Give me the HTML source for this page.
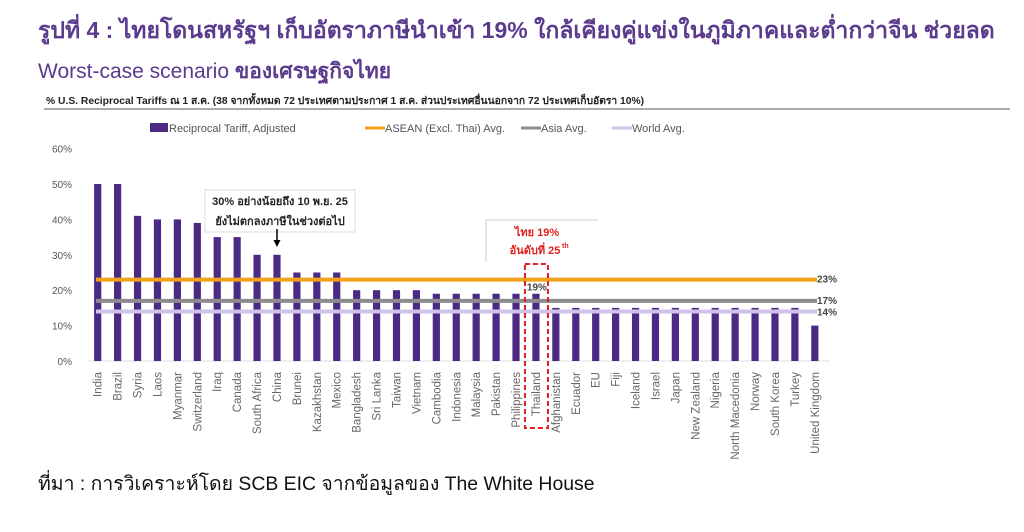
<!DOCTYPE html>
<html><head><meta charset="utf-8">
<style>
body{margin:0;background:#fff;width:1024px;height:532px;overflow:hidden;font-family:"Liberation Sans","Noto Sans CJK SC",sans-serif;}
.t{position:absolute;color:#5a3b8e;white-space:nowrap;}
</style></head><body>
<div class="t" style="left:38px;top:13px;font-size:23px;font-weight:bold;">รูปที่ 4 : ไทยโดนสหรัฐฯ เก็บอัตราภาษีนำเข้า 19% ใกล้เคียงคู่แข่งในภูมิภาคและต่ำกว่าจีน ช่วยลด</div>
<div class="t" style="left:38px;top:55px;font-size:21px;">Worst-case scenario <b>ของเศรษฐกิจไทย</b></div>
<div style="position:absolute;left:38px;top:468px;font-size:19.4px;color:#111;">ที่มา : การวิเคราะห์โดย SCB EIC จากข้อมูลของ The White House</div>
<svg id="c" width="1024" height="532" style="position:absolute;left:0;top:0"></svg>
<script>
const countries=["India","Brazil","Syria","Laos","Myanmar","Switzerland","Iraq","Canada","South Africa","China","Brunei","Kazakhstan","Mexico","Bangladesh","Sri Lanka","Taiwan","Vietnam","Cambodia","Indonesia","Malaysia","Pakistan","Philippines","Thailand","Afghanistan","Ecuador","EU","Fiji","Iceland","Israel","Japan","New Zealand","Nigeria","North Macedonia","Norway","South Korea","Turkey","United Kingdom"];
const tariffs=[50,50,41,40,40,39,35,35,30,30,25,25,25,20,20,20,20,19,19,19,19,19,19,15,15,15,15,15,15,15,15,15,15,15,15,15,10];
const avgNames=["ASEAN (Excl. Thai) Avg.","Asia Avg.","World Avg."];
const avgValues=[23,17,14];
const avgColors=["#f0a21b","#8c8c8c","#cfc3ea"];
const yTicks=[0,10,20,30,40,50,60];
const NS="http://www.w3.org/2000/svg";
const svg=document.getElementById('c');
function el(t,a,txt){const e=document.createElementNS(NS,t);for(const k in a)e.setAttribute(k,a[k]);if(txt!==undefined)e.textContent=txt;svg.appendChild(e);return e;}
const y=v=>361-v*3.54;
const x=i=>97.7+i*19.92;
let e=el('text',{x:46,y:104,'font-size':10.3,'font-weight':'bold',fill:'#222'},'% U.S. Reciprocal Tariffs ณ 1 ส.ค. (38 จากทั้งหมด 72 ประเทศตามประกาศ 1 ส.ค. ส่วนประเทศอื่นนอกจาก 72 ประเทศเก็บอัตรา 10%)');

e=el('line',{x1:44,y1:109,x2:1010,y2:109,stroke:'#555','stroke-width':1});

const lg=[["rect","#4b2a85","Reciprocal Tariff, Adjusted",150],["line",avgColors[0],avgNames[0],365],["line",avgColors[1],avgNames[1],521],["line",avgColors[2],avgNames[2],612]];
lg.forEach(l=>{
 if(l[0]=="rect"){e=el('rect',{x:l[3],y:123,width:18,height:9,fill:l[1]});}
 else{e=el('line',{x1:l[3],y1:128,x2:l[3]+20,y2:128,stroke:l[1],'stroke-width':3});}
 
 e=el('text',{x:l[3]+(l[0]=="rect"?19:20),y:132,'font-size':11,fill:'#555'},l[2]);
 
});
yTicks.forEach(v=>{e=el('text',{x:72,y:y(v)+4,'font-size':10,fill:'#555','text-anchor':'end'},v+'%');
 });
e=el('line',{x1:88,y1:361,x2:830,y2:361,stroke:'#ddd','stroke-width':1});

tariffs.forEach((v,i)=>{
 e=el('rect',{x:x(i)-3.6,y:y(v),width:7.2,height:361-y(v),fill:'#4b2a85'});
 
 e=el('text',{transform:`translate(${x(i)+4},372) rotate(-90)`,'font-size':11.5,fill:'#666','text-anchor':'end'},countries[i]);
 
});
avgValues.forEach((v,k)=>{
 e=el('line',{x1:96,y1:y(v),x2:817,y2:y(v),stroke:avgColors[k],'stroke-width':4});
 
 e=el('text',{x:817,y:y(v)+(k==2?4:3),'font-size':10,'font-weight':'bold',fill:'#444'},v+'%');
 
});
const ti=countries.indexOf("Thailand");
e=el('text',{x:x(ti)+1,y:y(tariffs[ti])-3,'font-size':10,'font-weight':'bold',fill:'#444','text-anchor':'middle'},tariffs[ti]+'%');

e=el('rect',{x:x(ti)-11,y:264,width:23,height:164,fill:'none',stroke:'#e02020','stroke-width':2,'stroke-dasharray':'5,3'});

e=el('polyline',{points:'486,262 486,220 598,220',fill:'none',stroke:'#ccc','stroke-width':1});

e=el('text',{x:537,y:236,'font-size':11,'font-weight':'bold',fill:'#e02020','text-anchor':'middle'},'ไทย 19%');

e=el('text',{x:535,y:254,'font-size':11,'font-weight':'bold',fill:'#e02020','text-anchor':'middle'},'อันดับที่ 25');

el('text',{x:562,y:248,'font-size':7,'font-weight':'bold',fill:'#e02020'},'th');
e=el('rect',{x:205,y:190,width:150,height:42,fill:'#fff',stroke:'#ddd','stroke-width':1});

e=el('text',{x:280,y:205,'font-size':11,'font-weight':'bold',fill:'#222','text-anchor':'middle'},'30% อย่างน้อยถึง 10 พ.ย. 25');

e=el('text',{x:280,y:225,'font-size':11,'font-weight':'bold',fill:'#222','text-anchor':'middle'},'ยังไม่ตกลงภาษีในช่วงต่อไป');

const ci=countries.indexOf("China");
e=el('line',{x1:x(ci),y1:229,x2:x(ci),y2:243,stroke:'#000','stroke-width':1.5});

el('polygon',{points:`${x(ci)-3.5},240 ${x(ci)+3.5},240 ${x(ci)},247`,fill:'#000'});
</script>
</body></html>
